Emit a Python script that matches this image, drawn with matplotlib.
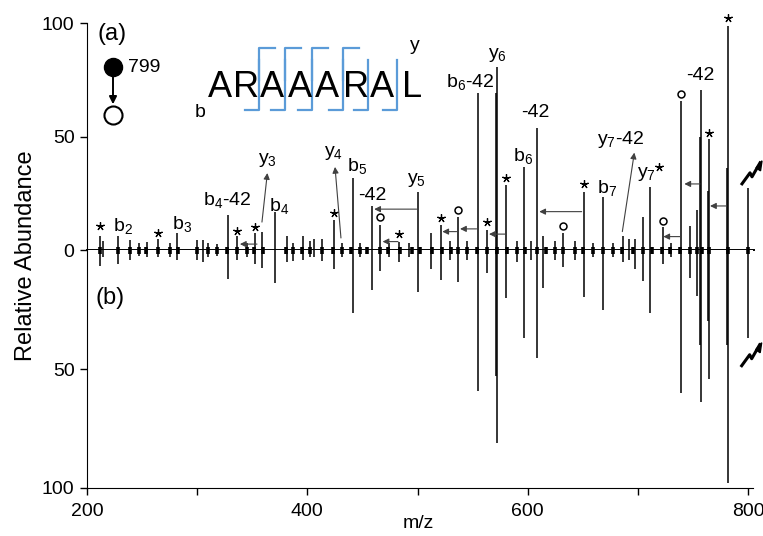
import numpy as np
import matplotlib
matplotlib.use("Agg")
import matplotlib.pyplot as plt
import matplotlib.transforms as mtransforms

plt.rcParams['font.family'] = ['Liberation Sans', 'DejaVu Sans']
plt.rcParams['mathtext.default'] = 'regular'

# peaks: m/z, abundance in (a) (up) and (b) (down)
peak_mz = [211.8, 214.5, 227.9, 239, 247, 254.5, 264.7, 275, 282, 299.6, 305.5, 310, 318,
           328.3, 336.4, 345, 352.5, 359.1, 370.6, 381.3, 387.3, 396.3, 402.4, 406, 413,
           424.2, 431, 441.2, 448, 458.3, 466.3, 474, 483.2, 492, 500.7, 512.2, 520.9,
           529.5, 536.4, 545, 555.2, 563.2, 570.9, 571.9, 580.3, 590, 596.9, 603, 608.2,
           614.1, 624.8, 632.2, 643, 651.1, 659, 668, 677, 686.2, 691.5, 697, 705, 711.3,
           722.5, 730, 739.2, 747.4, 753.4, 756.4, 757.3, 764, 764.8, 781.3, 782, 799.7]
top_ab = [6.3, 4, 6, 4.4, 3, 3.5, 5, 3, 7.5, 4.4, 4.4, 3, 2.5,
          15.3, 6, 3, 7.5, 8, 16.6, 6, 3, 6, 4, 5, 5,
          13, 3, 31.9, 3, 19.4, 11, 3, 3.5, 3, 25.4, 7.5, 11,
          4, 14.7, 4, 69, 8.8, 69, 80.8, 28.6, 4, 36.7, 4, 53.9,
          6, 4, 7.5, 4, 25.4, 3, 23.5, 3, 6, 5, 5, 14.4, 27.6,
          10.3, 3, 65.8, 10.6, 17.6, 50, 70.5, 26, 48.8, 36, 98.7, 27.2]
bot_ab = [6.6, 3, 5.9, 4.2, 2.5, 3, 3, 3, 4, 4, 5, 3, 2.5,
          12.2, 4, 3, 6, 7.7, 14, 4.9, 4.7, 4.2, 3, 3, 4.5,
          8, 3, 26.6, 3, 16.8, 8.8, 3, 5, 3, 17.5, 8, 12.6,
          4, 13.6, 4, 59.2, 9.8, 53, 81.2, 20, 5, 37.1, 4, 45.5,
          15.8, 4, 7, 4, 19.9, 3, 25.2, 3, 5, 4, 8, 12.9, 26.3,
          6, 3, 60, 11.8, 19.2, 40, 64, 30, 54.3, 40, 97.8, 37.1]

# small isotope clusters along the baseline
blob_mz = [212, 228, 239, 247, 254, 264, 275, 283, 300, 310, 318, 327, 336, 345, 352, 360,
           381, 387, 395, 402, 413, 423, 431, 440, 448, 454, 466, 473, 484, 495, 502, 513,
           522, 530, 537, 545, 554, 563, 572, 581, 590, 598, 608, 617, 625, 632, 643, 650,
           659, 668, 677, 686, 696, 705, 713, 722, 729, 738, 747, 754, 758, 765, 782, 800]

ion_labels = ["b$_2$", "b$_3$", "b$_4$-42", "y$_3$", "b$_4$", "y$_4$", "b$_5$", "-42", "y$_5$",
              "b$_6$-42", "y$_6$", "b$_6$", "-42", "b$_7$", "y$_7$-42", "y$_7$", "-42"]
ion_x = [232.2, 286.2, 327, 363.4, 374.3, 424.2, 445, 458.7, 499.5,
         547.6, 573, 595.8, 606.6, 672, 684.7, 707.4, 756.4]
ion_y = [10.6, 11.5, 22, 39.6, 19.4, 42.7, 37, 23.8, 30.8,
         74, 85.9, 41.4, 60.4, 27.3, 48.5, 33.5, 76.7]

star_x = [211.8, 264.7, 336.4, 352.5, 424.2, 483.2, 520.9, 563.2, 580.3, 651.1, 719.2, 764.8, 782]
star_y = [10.6, 7.3, 8.5, 10.3, 16.4, 7, 14.1, 12.3, 31.7, 29.1, 36.7, 51.7, 102]
circ_x = [466.3, 536.4, 632.2, 722.5, 739.2]
circ_y = [14.5, 17.6, 10.7, 12.9, 68.6]

# horizontal shift arrows: (from m/z, to m/z, height)
arr_from = [354.3, 499.2, 482.3, 535.5, 553.6, 579.4, 649, 738.3, 756.4, 780.6]
arr_to = [338.8, 460.7, 468.3, 522.5, 538.6, 564.9, 610.5, 723.1, 742.2, 765.5]
arr_y = [2.6, 18, 3.7, 8.1, 9.3, 7, 16.9, 5.9, 29.1, 19.4]
# slanted label arrows
diag = [((358.8, 12.3), (363.7, 33.9)), ((430.5, 5.3), (425.1, 36.6)), ((685.9, 8.1), (696.8, 42.9))]

seq = list("ARAAARAL")
seq_x = [309.8, 332.5, 357, 382.4, 407, 432.4, 456.9, 485.9]
cut_y = [356.1, 379.7, 404.2, 432.4]                 # y-ion cleavages
cut_b = [356.1, 379.7, 404.2, 432.4, 455.1, 481.4]   # b-ion cleavages

fig = plt.figure(figsize=(7.63, 5.36), dpi=100)
ax = fig.add_axes([87/763, 1-250/536, 666/763, 227/536])
bx = fig.add_axes([87/763, 1-488/536, 666/763, 238/536], sharex=ax)

ax.vlines(peak_mz, 0, top_ab, color='black', lw=1.1)
bx.vlines(peak_mz, 0, bot_ab, color='black', lw=1.1)
ax.vlines(blob_mz, 0, 1.5, color='black', lw=2.6)
bx.vlines(blob_mz, 0, 1.5, color='black', lw=2.6)
ax.plot([200, 805], [0, 0], color='black', lw=1.4, clip_on=False, zorder=3)

ax.set_xlim(200, 804.5)
ax.set_ylim(0, 100)
bx.set_ylim(100, 0)

for a in (ax, bx):
    a.spines['top'].set_visible(False)
    a.spines['right'].set_visible(False)
    a.tick_params(direction='out', length=5, width=1, labelsize=14, pad=4)
ax.spines['bottom'].set_visible(False)
ax.tick_params(axis='x', bottom=False, labelbottom=False)
ax.set_yticks([0, 50, 100])
bx.set_yticks([50, 100])
bx.set_xticks(range(200, 801, 100))
bx.set_xticklabels(['200', '', '400', '', '600', '', '800'])
bx.tick_params(axis='x', pad=6)
bx.set_xlabel("m/z", fontsize=14, labelpad=2)
bx.xaxis.set_label_coords((418-87)/666, -0.115)
fig.text(26/763, 1-256/536, "Relative Abundance", rotation=90, fontsize=17,
         ha='center', va='center')

for t, x, y in zip(ion_labels, ion_x, ion_y):
    ax.text(x, y, t, fontsize=14, ha='center', va='center', clip_on=False)
ax.plot(star_x, star_y, ls='none', marker=(5, 2, 0), ms=6, mew=0.9, color='black', clip_on=False)
ax.plot(circ_x, circ_y, ls='none', marker='o', ms=5, mew=1.1, mfc='white', mec='black', clip_on=False)

for x0, x1, y in zip(arr_from, arr_to, arr_y):
    ax.annotate("", xy=(x1, y), xytext=(x0, y),
                arrowprops=dict(arrowstyle='-|>', color='0.25', lw=0.8, mutation_scale=9,
                                shrinkA=0, shrinkB=0))
for (p0, p1) in diag:
    ax.annotate("", xy=p1, xytext=p0,
                arrowprops=dict(arrowstyle='-|>', color='0.25', lw=0.8, mutation_scale=9,
                                shrinkA=0, shrinkB=0))

ax.text(222.7, 95.2, "(a)", fontsize=17, ha='center', va='center')
bx.text(220.9, 20.2, "(b)", fontsize=17, ha='center', va='center')

# precursor selection
ax.plot([223.6], [80.6], marker='o', ms=13, color='black', clip_on=False)
ax.plot([223.6], [59.5], marker='o', ms=13, mfc='white', mec='black', mew=1.5, clip_on=False)
ax.annotate("", xy=(223.6, 64.2), xytext=(223.6, 77),
            arrowprops=dict(arrowstyle='-|>', color='black', lw=1.4, mutation_scale=11,
                            shrinkA=0, shrinkB=0))
ax.text(237.2, 80.2, "799", fontsize=14, ha='left', va='center')

# peptide sequence with fragment markers
for ch, x in zip(seq, seq_x):
    ax.text(x, 67.4, ch, fontsize=26, ha='left', va='baseline')
ax.text(302.6, 60.4, "b", fontsize=14, ha='center', va='center')
ax.text(497.7, 90.3, "y", fontsize=14, ha='center', va='center')
blue = '#5b9bd8'
for x in cut_y:
    ax.plot([x, x, x + 14.5], [75, 89, 89], color=blue, lw=1.6)
for x in cut_b:
    ax.plot([x - 12.7, x, x], [61.7, 61.7, 83.7], color=blue, lw=1.6)

# broken-scale symbols next to the precursor peak
def bolt(a, x, y):
    tr = fig.dpi_scale_trans + mtransforms.ScaledTranslation(x, y, a.transData)
    px = np.array([-0.10, -0.02, 0.00, 0.08])
    py = np.array([-0.11, 0.00, -0.04, 0.10])
    a.plot(px, py, transform=tr, color='black', lw=2.2, clip_on=False)
    a.fill([0.04, 0.10, 0.085], [0.05, 0.12, 0.02], transform=tr, color='black', clip_on=False)

bolt(ax, 803.6, 34)
bolt(bx, 803.3, 44)

fig.savefig("out.png", dpi=100)
